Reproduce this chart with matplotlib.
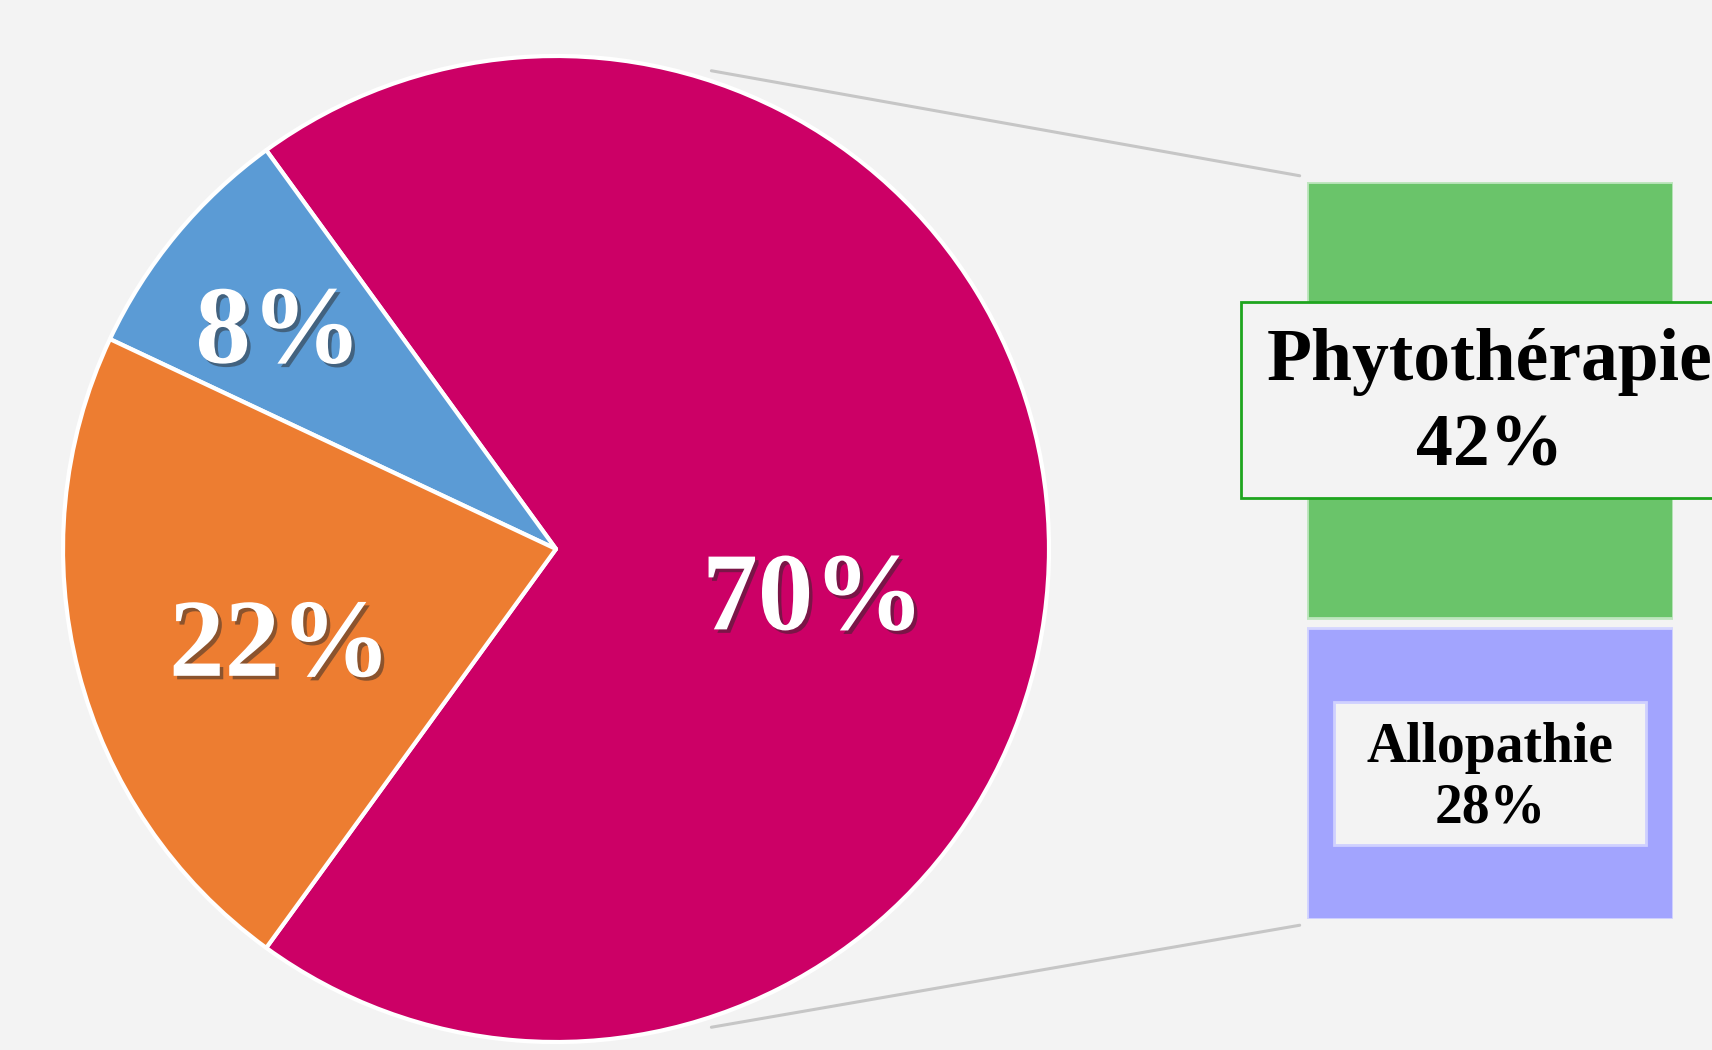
import matplotlib
matplotlib.use("Agg")
import numpy as np
import matplotlib.pyplot as plt
import matplotlib.patheffects as pe
from matplotlib.patches import Rectangle, ConnectionPatch

# Pie: main split of remedies
pie_labels = ["Autres", "Aucun", "Mixte"]
pie_values = [70, 8, 22]
pie_colors = ["#cc0066", "#5b9bd5", "#ed7d31"]

# Bar: breakdown of the 70% slice
bar_labels = ["Allopathie", "Phytothérapie"]
bar_values = [28, 42]
bar_colors = ["#a2a4fe", "#6ac46a"]
bar_edges = ["#d4d5ff", "#bfe6bf"]

BG = "#f3f3f3"
W, H = 1712, 1050
SERIF = ["Liberation Serif", "DejaVu Serif"]

fig = plt.figure(figsize=(W / 100, H / 100), dpi=100, facecolor=BG)

# ---- pie, drawn in a pixel-like data space ----
ax = fig.add_axes([0, 0, 1, 1])
ax.set_facecolor(BG)
cx, cy, R = 556, 501, 493
start = -pie_values[0] / sum(pie_values) * 360 / 2
wedges, _ = ax.pie(pie_values, colors=pie_colors, startangle=start,
                   counterclock=True, center=(cx, cy), radius=R,
                   wedgeprops=dict(edgecolor="white", linewidth=3.0,
                                   joinstyle="round"))
ax.set_xlim(0, W)
ax.set_ylim(0, H)
ax.set_aspect("equal")
ax.axis("off")

shadow = [pe.withSimplePatchShadow(offset=(2.5, -2.5), shadow_rgbFace="#2a2a2a", alpha=0.5)]
label_r = [0.53, 0.72, 0.59]
label_dtheta = [-10, 1, 4]
for w, val, rf, dt in zip(wedges, pie_values, label_r, label_dtheta):
    th = np.deg2rad((w.theta1 + w.theta2) / 2 + dt)
    ax.text(cx + rf * R * np.cos(th), cy + rf * R * np.sin(th) - 8, f"{val}%",
            ha="center", va="center", color="white", fontsize=80,
            fontweight="bold", family=SERIF, path_effects=shadow)

# ---- stacked bar ----
gap = 0.96
total = sum(bar_values) + gap
axb = fig.add_axes([1307 / W, (H - 919) / H, 366 / W, 737 / H])
axb.set_xlim(-0.5, 0.5)
axb.set_ylim(0, total)
axb.axis("off")

bottoms = [0, bar_values[0] + gap]
for val, b, col, ec in zip(bar_values, bottoms, bar_colors, bar_edges):
    axb.bar(0, val, bottom=b, width=1, color=col, edgecolor=ec, linewidth=2.0)

# label boxes (width in bar widths, height in bar units)
box_sizes = [(0.85, 13.7), (1.36, 18.9)]
box_edges = ["#cfd0ff", "#1ea51e"]
font_sizes = [40, 53]
line_sp = [1.2, 1.33]
text_shift = [-0.45, -0.45]
for name, val, b, (bw, bh), bec, fs, ls, sh in zip(bar_labels, bar_values, bottoms,
                                                   box_sizes, box_edges, font_sizes,
                                                   line_sp, text_shift):
    mid = b + val / 2
    axb.add_patch(Rectangle((-bw / 2, mid - bh / 2), bw, bh, facecolor=BG,
                            edgecolor=bec, linewidth=2.0, clip_on=False, zorder=3))
    axb.text(0, mid + sh, f"{name}\n{val}%", ha="center", va="center", fontsize=fs,
             fontweight="bold", family=SERIF, color="black", linespacing=ls,
             zorder=4, clip_on=False)

# ---- connector lines from pie to bar ----
for ang, yb in [(72, total), (-72, 0)]:
    t = np.deg2rad(ang)
    con = ConnectionPatch(xyA=(cx + 1.02 * R * np.cos(t), cy + 1.02 * R * np.sin(t)),
                          coordsA=ax.transData, xyB=(-0.52, yb + (0.6 if yb else -0.6)),
                          coordsB=axb.transData, color="#c6c6c6", linewidth=2.2)
    fig.add_artist(con)

fig.savefig("out.png", dpi=100, facecolor=BG)
